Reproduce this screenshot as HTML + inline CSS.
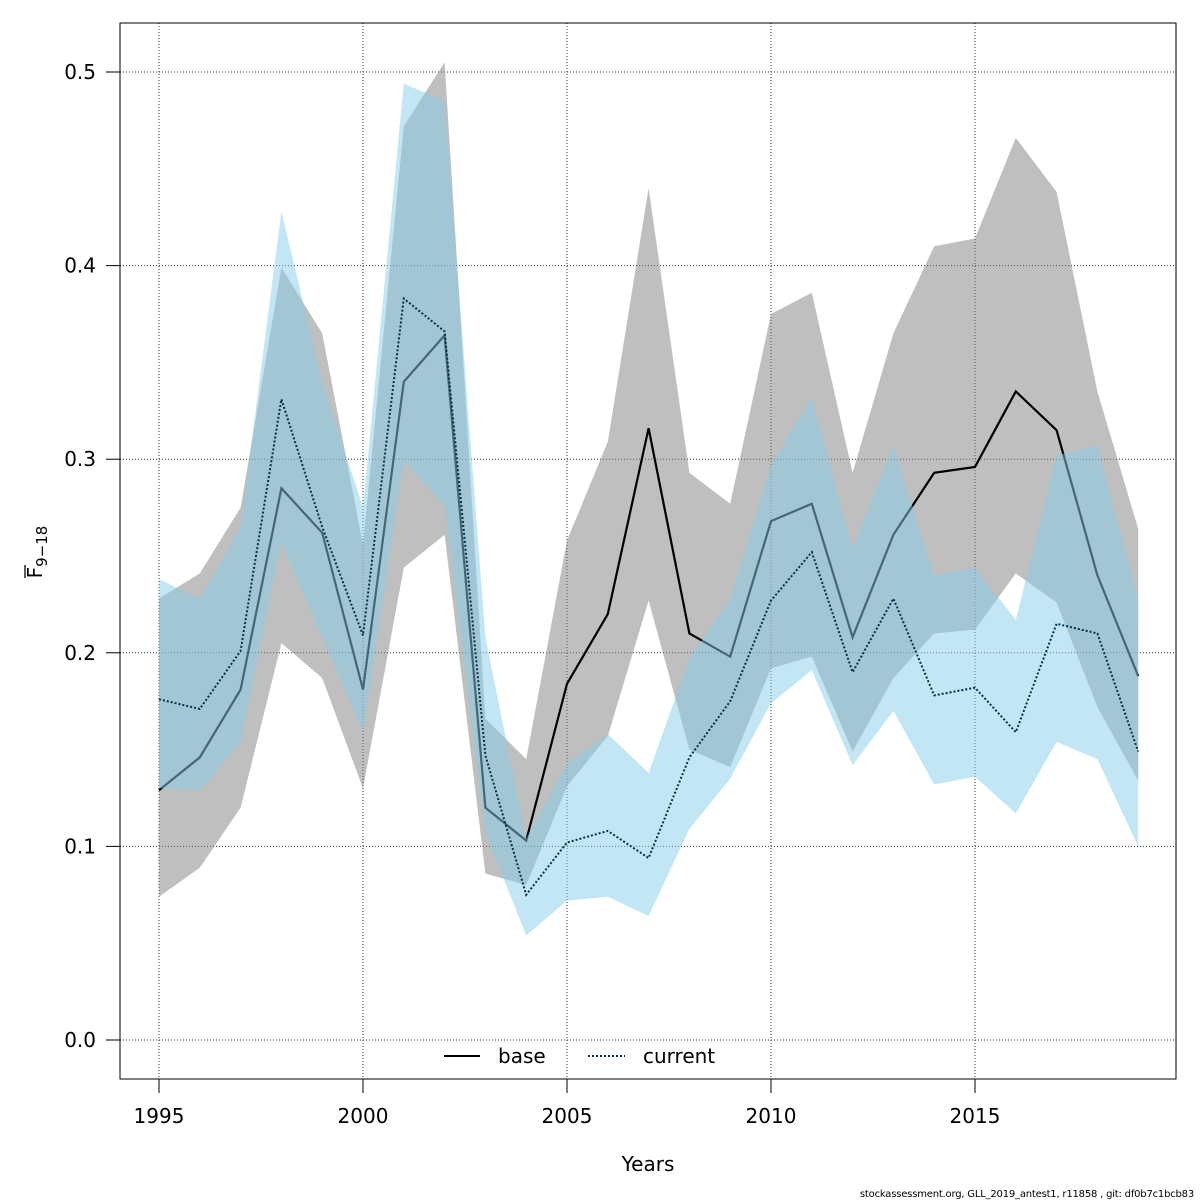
<!DOCTYPE html>
<html><head><meta charset="utf-8"><style>
body{margin:0;background:#fff;font-family:"DejaVu Sans","Liberation Sans",sans-serif;}
svg text{font-family:"DejaVu Sans","Liberation Sans",sans-serif;}
</style></head><body>
<svg id="chart" width="1200" height="1200" xmlns="http://www.w3.org/2000/svg">
<rect x="0" y="0" width="1200" height="1200" fill="#fff"/>
<g id="grid"></g>
<g id="bands"></g>
<rect x="120" y="23" width="1056" height="1056" fill="none" stroke="#000" stroke-width="1"/>
<g id="axes"></g>
<text x="648" y="1171" font-size="20" text-anchor="middle">Years</text>
<g transform="translate(42,552) rotate(-90)">
<text x="0" y="0" font-size="20" text-anchor="middle">F<tspan font-size="15" dy="5">9−18</tspan></text>
<line x1="-26" y1="-17" x2="-13" y2="-17" stroke="#000" stroke-width="1.3"/>
</g>
<g>
<g><line x1="444" y1="1056" x2="480" y2="1056" stroke="#000" stroke-width="2"/><text x="498" y="1063" font-size="20">base</text></g>
<g><line x1="588" y1="1056" x2="625" y2="1056" stroke="#00324f" stroke-width="2" stroke-dasharray="2,2"/><text x="643" y="1063" font-size="20">current</text></g>
</g>
<text x="1194" y="1197" font-size="10" text-anchor="end" letter-spacing="-0.2">stockassessment.org, GLL_2019_antest1, r11858 , git: df0b7c1bcb83</text>
</svg>
<script>
const years=[1995,1996,1997,1998,1999,2000,2001,2002,2003,2004,2005,2006,2007,2008,2009,2010,2011,2012,2013,2014,2015,2016,2017,2018,2019];
const baseF=[0.129,0.146,0.181,0.285,0.262,0.181,0.340,0.364,0.120,0.103,0.184,0.220,0.316,0.210,0.198,0.268,0.277,0.208,0.261,0.293,0.296,0.335,0.315,0.240,0.188];
const baseHi=[0.228,0.241,0.275,0.399,0.365,0.256,0.472,0.505,0.166,0.145,0.258,0.309,0.440,0.293,0.277,0.375,0.386,0.293,0.365,0.410,0.414,0.466,0.438,0.335,0.264];
const baseLo=[0.074,0.089,0.120,0.205,0.187,0.130,0.244,0.261,0.086,0.080,0.131,0.157,0.227,0.150,0.141,0.192,0.198,0.149,0.187,0.210,0.212,0.241,0.226,0.172,0.134];
const curF=[0.176,0.171,0.201,0.331,0.265,0.209,0.383,0.366,0.147,0.075,0.102,0.108,0.094,0.146,0.175,0.227,0.252,0.190,0.228,0.178,0.182,0.159,0.215,0.210,0.149];
const curHi=[0.238,0.228,0.265,0.428,0.340,0.275,0.494,0.485,0.208,0.104,0.143,0.158,0.138,0.197,0.228,0.297,0.332,0.254,0.307,0.240,0.244,0.217,0.302,0.307,0.228];
const curLo=[0.130,0.129,0.154,0.257,0.208,0.159,0.299,0.276,0.107,0.054,0.072,0.074,0.064,0.109,0.135,0.174,0.191,0.142,0.170,0.132,0.136,0.117,0.154,0.145,0.100];
const xTicks=[1995,2000,2005,2010,2015];
const yTicks=[0.0,0.1,0.2,0.3,0.4,0.5];
const NS="http://www.w3.org/2000/svg";
const X=v=>159+(v-1995)*40.8;
const Y=v=>1040-v*1936;
function mk(tag,attrs,parent){const e=document.createElementNS(NS,tag);for(const k in attrs)e.setAttribute(k,attrs[k]);parent.appendChild(e);return e;}
const grid=document.getElementById('grid'),bands=document.getElementById('bands'),axes=document.getElementById('axes');
xTicks.forEach(t=>{const l=mk('line',{x1:X(t),x2:X(t),y1:23,y2:1079,stroke:'#333','stroke-width':1,'stroke-dasharray':'1,2'},grid);


const tk=mk('line',{x1:X(t),x2:X(t),y1:1079,y2:1093,stroke:'#000'},axes);


const tx=mk('text',{x:X(t),y:1123,'font-size':20,'text-anchor':'middle'},axes);tx.textContent=t;

});
yTicks.forEach(t=>{const l=mk('line',{x1:120,x2:1176,y1:Y(t),y2:Y(t),stroke:'#333','stroke-width':1,'stroke-dasharray':'1,2'},grid);


const tk=mk('line',{x1:106,x2:120,y1:Y(t),y2:Y(t),stroke:'#000'},axes);


const tx=mk('text',{x:96,y:Y(t)+7,'font-size':20,'text-anchor':'end'},axes);tx.textContent=t.toFixed(1);

});
function band(hi,lo,fill){let p=years.map((y,i)=>X(y)+','+Y(hi[i]));p=p.concat(years.map((y,i)=>X(y)+','+Y(lo[i])).reverse());return mk('polygon',{points:p.join(' '),fill:fill},bands);}
function line(v,attrs){return mk('polyline',Object.assign({points:years.map((y,i)=>X(y)+','+Y(v[i])).join(' '),fill:'none'},attrs),bands);}
const b1=band(baseHi,baseLo,'rgba(128,128,128,0.5)');


const l1=line(baseF,{stroke:'#000','stroke-width':2.2});


const b2=band(curHi,curLo,'rgba(135,206,235,0.5)');


const l2=line(curF,{stroke:'#00324f','stroke-width':2,'stroke-dasharray':'2,2'});


</script>
</body></html>
